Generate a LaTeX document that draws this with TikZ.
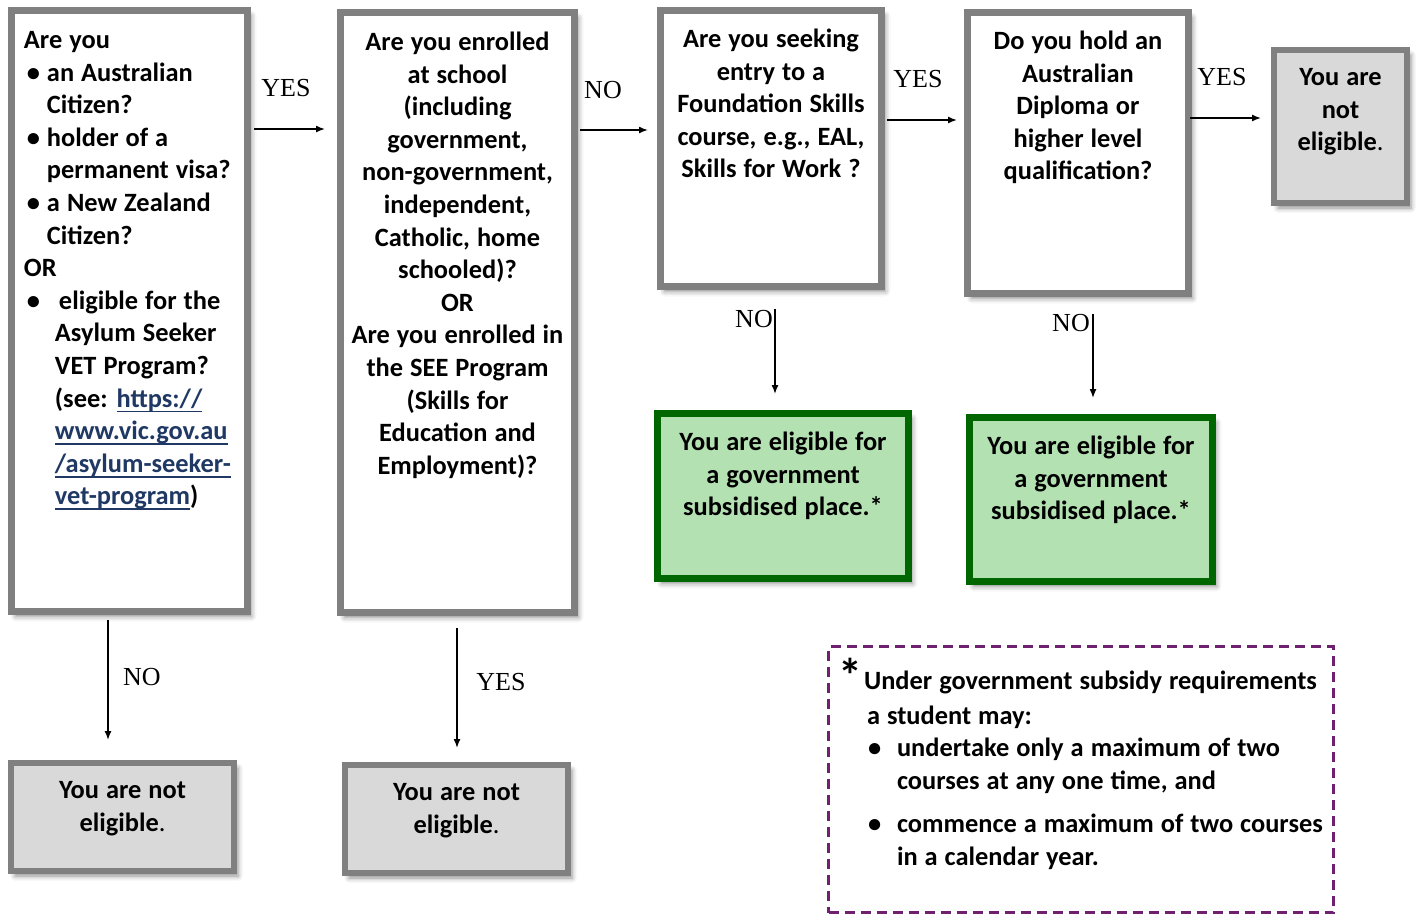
\documentclass[tikz,border=0pt]{standalone}
\usepackage{fontspec}
\setmainfont{Carlito}
\newfontfamily\lblfont{Liberation Serif}
\usetikzlibrary{arrows.meta,shadows.blur}
\definecolor{BoxGrey}{RGB}{128,128,128}
\definecolor{NoFill}{RGB}{217,217,217}
\definecolor{YesGreen}{RGB}{0,102,0}
\definecolor{YesFill}{RGB}{179,225,178}
\definecolor{NotePurple}{RGB}{112,32,112}
\definecolor{LinkBlue}{RGB}{31,56,100}
\hyphenpenalty=10000 \exhyphenpenalty=10000
% box text: bold, fixed word spacing
\newcommand\boxfont{\bfseries\fontsize{13.2}{16.3}\selectfont\spaceskip=3.5pt plus 1pt minus .5pt\relax}
% bullets and hanging lines inside the boxes
\newcommand\bul{\makebox[11.5pt][l]{\hspace{1.5pt}\textbullet}}
\newcommand\ind{\hspace*{11.5pt}}
\newcommand\lnk[1]{{\color{LinkBlue}\setbox0\hbox{#1}\rlap{\rule[-2.6pt]{\wd0}{.9pt}}\box0}}
\newcommand\eligible{eligible{\mdseries.}}

\begin{document}
\begin{tikzpicture}[x=0.5pt,y=-0.5pt,
  box/.style={draw=BoxGrey,line width=3.5pt,fill=white,anchor=north west,inner ysep=0pt,inner xsep=0pt,align=flush center,
    font=\boxfont,
    blur shadow={shadow xshift=2pt,shadow yshift=-2.5pt,shadow blur radius=2.5pt,shadow opacity=45}},
  nobox/.style={box,line width=3pt,fill=NoFill},
  yesbox/.style={box,draw=YesGreen,fill=YesFill},
  arr/.style={-{Latex[length=4.5pt,width=3.5pt]},line width=.75pt},
  lbl/.style={font=\lblfont\fontsize{13}{13}\selectfont,inner sep=0pt}]
\useasboundingbox (0,0) rectangle (1416,916);

% questions along the top
\node[box,align=flush left,inner xsep=6.25pt,text width=105.5pt,text height=19pt,text depth=281.5pt] (q1) at (8,7)
  {Are you\\
   \bul an Australian\\
   \ind Citizen?\\
   \bul holder of a\\
   \ind permanent visa?\\
   \bul a New Zealand\\
   \ind Citizen?\\
   OR\\
   \makebox[17.5pt][l]{\hspace{1.5pt}\textbullet}eligible for the\\
   \hspace*{15.5pt}Asylum Seeker\\
   \hspace*{15.5pt}VET Program?\\
   \hspace*{15.5pt}(see: \lnk{https://}\\
   \hspace*{15.5pt}\lnk{www.vic.gov.au}\\
   \hspace*{15.5pt}\lnk{/asylum-seeker-}\\
   \hspace*{15.5pt}\lnk{vet-program})};
\node[box,text width=117pt,text height=19pt,text depth=281pt] (q2) at (337,9)
  {Are you enrolled\\at school\\(including\\government,\\non-government,\\independent,\\Catholic, home\\schooled)?\\OR\\
   Are you enrolled in\\the SEE Program\\(Skills for\\Education and\\Employment)?};
\node[box,text width=110.5pt,text height=18.5pt,text depth=119.5pt] (q3) at (657,7)
  {Are you seeking\\entry to a\\Foundation Skills\\course, e.g., EAL,\\Skills for Work ?};
\node[box,text width=110.5pt,text height=18.5pt,text depth=122pt] (q4) at (964,9)
  {Do you hold an\\Australian\\Diploma or\\higher level\\qualification?};
\node[nobox,text width=66.5pt,text height=17.75pt,text depth=58.75pt] (n4) at (1271,47) {You are\\not\\\eligible};

% outcomes
\node[nobox,text width=111.5pt,text height=17.75pt,text depth=36.25pt] (n1) at (8,760) {You are not\\\eligible};
\node[nobox,text width=111.5pt,text height=17.75pt,text depth=36.25pt] (n2) at (342,762) {You are not\\\eligible};
\node[yesbox,text width=125.5pt,text height=18.5pt,text depth=64pt] (g1) at (654,410)
  {You are eligible for\\a government\\subsidised place.*};
\node[yesbox,text width=121.5pt,text height=18.5pt,text depth=63.5pt] (g2) at (966,414)
  {You are eligible for\\a government\\subsidised place.*};

% footnote
\node[draw=NotePurple,dash pattern=on 5pt off 3pt,line width=1.5pt,anchor=north west,align=flush left,
  inner ysep=0pt,inner xsep=4.75pt,text width=243pt,text height=21.5pt,text depth=111.5pt,
  font=\boxfont] (note) at (827,645)
  {\mbox{\makebox[13pt][l]{\raisebox{-1.5pt}{\fontsize{24}{24}\selectfont*}}Under government subsidy requirements}\\[1pt]
   \hspace*{14.5pt}a student may:\\
   \hspace*{15pt}\makebox[14.5pt][l]{\textbullet}undertake only a maximum of two\\
   \hspace*{29.5pt}courses at any one time, and\\[5.5pt]
   \hspace*{15pt}\makebox[14.5pt][l]{\textbullet}\mbox{commence a maximum of two courses}\\
   \hspace*{29.5pt}in a calendar year.};

% connectors
\draw[arr,shorten <=1.5pt,shorten >=6pt] (q1.east |- 0,129) -- node[lbl,xshift=-4pt,yshift=20.5pt]{YES} (q2.west |- 0,129);
\draw[arr,shorten <=1pt,shorten >=4.5pt] (q2.east |- 0,130) -- node[lbl,xshift=-7.25pt,yshift=20pt]{NO} (q3.west |- 0,130);
\draw[arr,shorten <=1pt,shorten >=3.5pt] (q3.east |- 0,120) -- node[lbl,xshift=-3.25pt,yshift=20.5pt]{YES} (q4.west |- 0,120);
\draw[arr,shorten <=-1pt,shorten >=5pt] (q4.east |- 0,118) -- node[lbl,xshift=-4.75pt,yshift=20.5pt]{YES} (n4.west |- 0,118);
\draw[arr,shorten <=2.5pt,shorten >=10pt] (q1.south -| 108,0) -- node[lbl,xshift=17pt,yshift=5.25pt]{NO} (n1.north -| 108,0);
\draw[arr,shorten <=6pt,shorten >=7pt] (q2.south -| 457,0) -- node[lbl,xshift=22pt,yshift=3.5pt]{YES} (n2.north -| 457,0);
\draw[arr,shorten <=9.5pt,shorten >=8pt] (q3.south -| 775,0) -- node[lbl,pos=0,xshift=-10.5pt,yshift=-14.5pt]{NO} (g1.north -| 775,0);
\draw[arr,shorten <=8.5pt,shorten >=8pt] (q4.south -| 1093,0) -- node[lbl,pos=0,xshift=-11pt,yshift=-13pt]{NO} (g2.north -| 1093,0);
\end{tikzpicture}
\end{document}
